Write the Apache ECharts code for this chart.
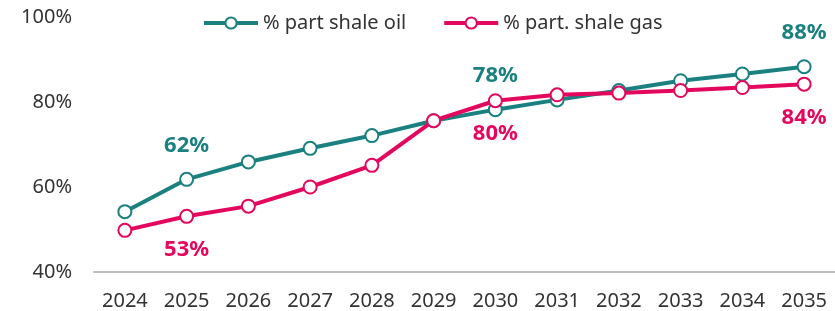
<!DOCTYPE html>
<html>
<head>
<meta charset="utf-8">
<script src="https://cdn.jsdelivr.net/npm/echarts@6/dist/echarts.min.js"></script>
<style>
  html, body { margin: 0; padding: 0; background: #fff; }
  #chart { width: 835px; height: 311px; }
</style>
</head>
<body>
<div id="chart"></div>
<script>
// --- data ---
const years = ['2024', '2025', '2026', '2027', '2028', '2029', '2030', '2031', '2032', '2033', '2034', '2035'];
const shaleOil = [54.2, 61.8, 65.9, 69.1, 72.1, 75.6, 78.2, 80.5, 82.7, 85.0, 86.6, 88.3];
const shaleGas = [49.8, 53.1, 55.5, 60.0, 65.1, 75.6, 80.3, 81.7, 82.1, 82.7, 83.4, 84.2];
// only some points carry a value label
const oilLabelYears = ['2025', '2030', '2035'];
const gasLabelYears = ['2025', '2030', '2035'];
const yTicks = [40, 60, 80, 100];

const TEAL = '#1a8080';
const PINK = '#e3075d';
const FONT = 'Noto Sans';

const chart = echarts.init(document.getElementById('chart'));

// builds data items, labelled where asked
const withLabels = (values, labelYears, pos) =>
  values.map((v, i) => ({
    value: v,
    label: {
      show: labelYears.includes(years[i]),
      position: pos,
      distance: 15,
      formatter: (p) => Math.round(p.value) + '%'
    }
  }));

const lineSeries = (name, color, data) => ({
  name: name,
  type: 'line',
  data: data,
  symbol: 'circle',
  symbolSize: 13,
  lineStyle: { color: color, width: 4 },
  itemStyle: { color: '#fff', borderColor: color, borderWidth: 2 },
  label: {
    color: color,
    fontFamily: FONT,
    fontWeight: 'bold',
    fontSize: 22
  },
  emphasis: { disabled: true }
});

const option = {
  animation: false,
  textStyle: { fontFamily: FONT },
  legend: {
    top: 8,
    left: 197,
    itemWidth: 54,
    itemHeight: 14,
    itemGap: 36,
    lineStyle: { width: 4 },
    textStyle: { color: '#333', fontSize: 20, fontFamily: FONT },
    data: ['% part shale oil', '% part. shale gas']
  },
  grid: { left: 94, right: -4, top: 17, bottom: 38 },
  xAxis: {
    type: 'category',
    data: years,
    boundaryGap: true,
    axisLine: { lineStyle: { color: '#bdbdbd', width: 2 } },
    axisTick: { show: false },
    axisLabel: { color: '#333', fontSize: 20, fontFamily: FONT, margin: 19 }
  },
  yAxis: {
    type: 'value',
    min: yTicks[0],
    max: yTicks[yTicks.length - 1],
    interval: 20,
    axisLine: { show: false },
    axisTick: { show: false },
    splitLine: { show: false },
    axisLabel: {
      color: '#333',
      fontSize: 20,
      fontFamily: FONT,
      margin: 22,
      formatter: '{value}%'
    }
  },
  series: [
    lineSeries('% part shale oil', TEAL, withLabels(shaleOil, oilLabelYears, 'top')),
    lineSeries('% part. shale gas', PINK, withLabels(shaleGas, gasLabelYears, 'bottom'))
  ]
};

chart.setOption(option);
</script>
</body>
</html>
